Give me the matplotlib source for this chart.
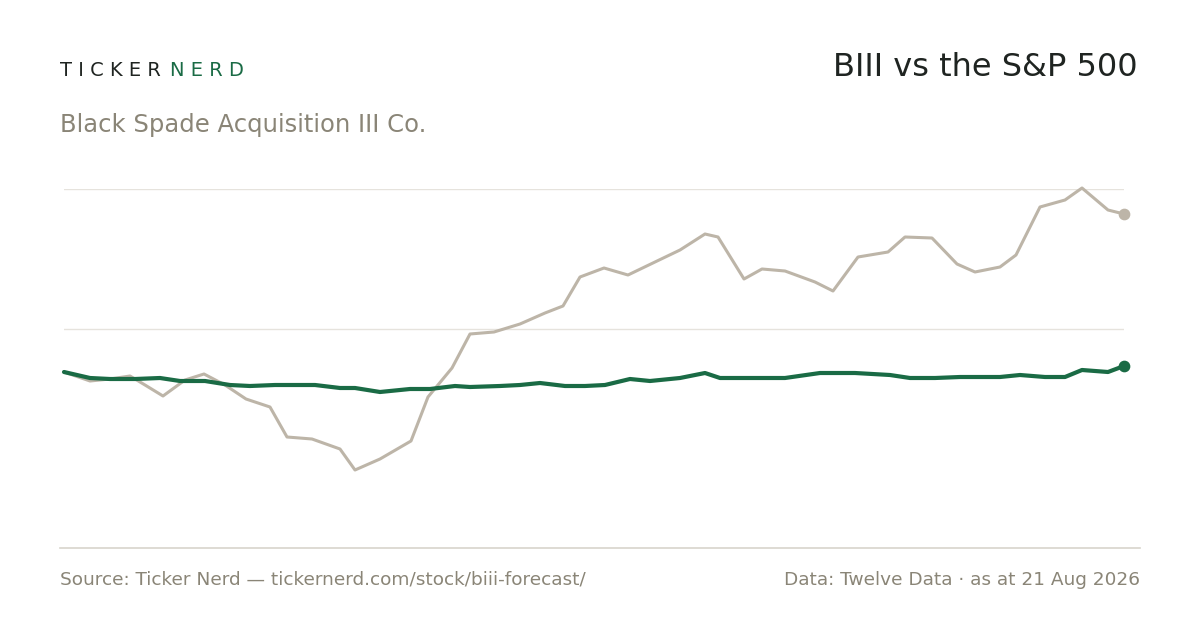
import matplotlib
matplotlib.use("Agg")
import matplotlib.pyplot as plt

days = [0,26,46,66,81,99,121,140,161,182,206,223,248,276,291,316,347,364,388,406,430,456,481,499,516,540,564,591,616,641,654,680,698,721,751,769,794,824,841,868,893,911,936,952,976,1001,1018,1044,1060]
biii = [0,-9,-7,-4,-13,-24,-8,-2,-13,-27,-35,-65,-67,-77,-98,-87,-69,-25,4,38,40,48,59,66,95,104,97,110,122,138,135,93,103,101,90,81,115,120,135,134,108,100,105,117,165,172,184,162,158]
sp_days = [0,26,46,71,96,116,141,166,186,211,251,276,291,316,346,366,391,406,436,456,476,501,521,541,566,586,616,641,656,681,721,756,791,826,846,871,896,936,956,981,1001,1018,1044,1060]
sp = [0,-6,-7,-7,-6,-9,-9,-13,-14,-13,-13,-16,-16,-20,-17,-17,-14,-15,-14,-13,-11,-14,-14,-13,-7,-9,-6,-1,-6,-6,-6,-1,-1,-3,-6,-6,-5,-5,-3,-5,-5,2,0,6]

GREEN = "#1a6b45"; GREY = "#bdb5a8"; TXT = "#8a8577"

fig = plt.figure(figsize=(12, 6.3), dpi=100)
fig.patch.set_facecolor("white")
ax = fig.add_axes([64/1200, 1-548/630, 1060/1200, (548-189)/630])
ax.plot(days, biii, color=GREY, lw=2.2, solid_capstyle="round", zorder=2, clip_on=False)
ax.plot(sp_days, sp, color=GREEN, lw=3, solid_capstyle="round", zorder=3, clip_on=False)
ax.scatter([days[-1]], [biii[-1]], s=55, color=GREY, zorder=4, clip_on=False)
ax.scatter([sp_days[-1]], [sp[-1]], s=55, color=GREEN, zorder=5, clip_on=False)
ax.set_xlim(0, 1060)
ax.set_ylim(-176, 183)
for g in (183, 43):
    ax.axhline(g, color="#e6e3dd", lw=1, zorder=1)
ax.set_xticks([]); ax.set_yticks([])
for s in ax.spines.values():
    s.set_visible(False)
fig.add_artist(plt.Line2D([60/1200, 1140/1200], [1-548/630]*2, color="#d8d4cc", lw=1.2))

fig.text(60/1200, 1-70/630, "T I C K E R", fontsize=14, color="#1f2421", va="center")
fig.text(170/1200, 1-70/630, "N E R D", fontsize=14, color=GREEN, va="center")
fig.text(1138/1200, 1-67/630, "BIII vs the S&P 500", fontsize=23, color="#1f2421", ha="right", va="center")
fig.text(60/1200, 1-125/630, "Black Spade Acquisition III Co.", fontsize=17.5, color=TXT, va="center")
fig.text(60/1200, 1-580/630, "Source: Ticker Nerd — tickernerd.com/stock/biii-forecast/", fontsize=13.3, color=TXT, va="center")
fig.text(1140/1200, 1-580/630, "Data: Twelve Data · as at 21 Aug 2026", fontsize=13.3, color=TXT, va="center", ha="right")
fig.savefig("out.png", dpi=100)
